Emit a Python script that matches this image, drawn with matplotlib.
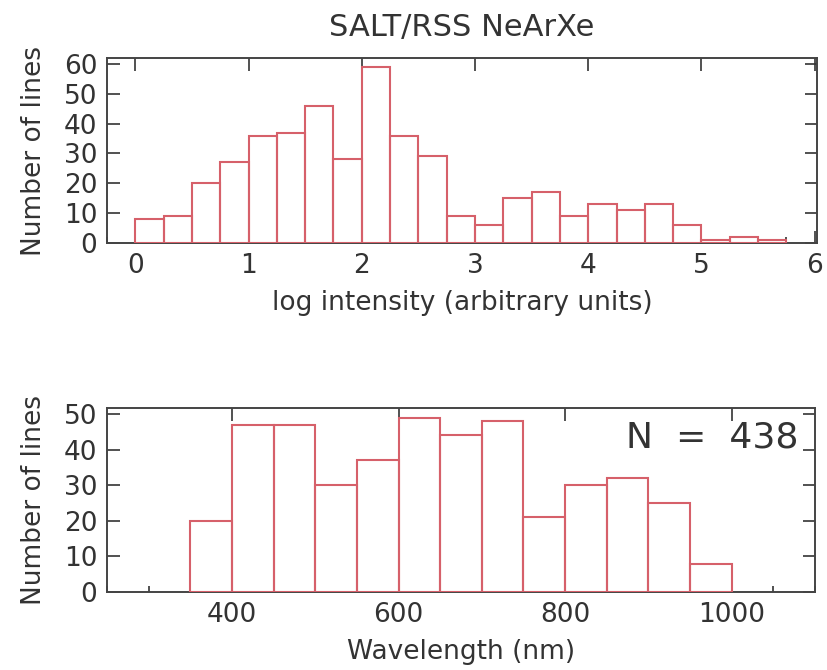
import matplotlib.pyplot as plt
import numpy as np
from matplotlib.ticker import MultipleLocator

# log intensity histogram (bin width 0.25, starting at 0)
logint_edges = np.arange(0, 5.75 + 0.001, 0.25)
logint_counts = [8, 9, 20, 27, 36, 37, 46, 28, 59, 36, 29, 9, 6,
                 15, 17, 9, 13, 11, 13, 6, 1, 2, 1]

# wavelength histogram (bin width 50 nm, starting at 350)
wave_edges = np.arange(350, 1000 + 1, 50)
wave_counts = [20, 47, 47, 30, 37, 49, 44, 48, 21, 30, 32, 25, 8]

n_lines = sum(wave_counts)

bar_color = '#d6606a'
txt_color = '#333333'
plt.rcParams['font.family'] = 'DejaVu Sans'
plt.rcParams['text.color'] = txt_color
plt.rcParams['axes.labelcolor'] = txt_color
plt.rcParams['xtick.color'] = '#333333'
plt.rcParams['ytick.color'] = '#333333'

fig = plt.figure(figsize=(8.27, 6.70), dpi=100)
W, H = 827, 670
ax1 = fig.add_axes([107 / W, 1 - 243 / H, (817 - 107) / W, (243 - 58) / H])
ax2 = fig.add_axes([107 / W, 1 - 592 / H, (815 - 107) / W, (592 - 408) / H])


def style(ax):
    for s in ax.spines.values():
        s.set_color('#444444')
        s.set_linewidth(1.4)
    ax.tick_params(which='both', direction='in', top=True, right=True,
                   labelsize=19, width=1.2, pad=7)
    ax.tick_params(which='major', length=9)
    ax.tick_params(which='minor', length=4)
    ax.tick_params(axis='y', which='minor', left=False, right=False)


def hist_bars(ax, edges, counts):
    ax.bar(edges[:-1], counts, width=np.diff(edges), align='edge',
           fill=False, edgecolor=bar_color, lw=1.5, zorder=3)


hist_bars(ax1, logint_edges, logint_counts)
ax1.set_xlim(-0.25, 6.02)
ax1.set_ylim(0, 62)
ax1.xaxis.set_major_locator(MultipleLocator(1))
ax1.xaxis.set_minor_locator(MultipleLocator(0.25))
ax1.yaxis.set_major_locator(MultipleLocator(10))
style(ax1)
ax1.tick_params(axis='x', which='minor', top=False)
ax1.set_xlabel('log intensity (arbitrary units)', size=19, labelpad=8)
ax1.set_ylabel('Number of lines', size=19, labelpad=12)
ax1.set_title('SALT/RSS NeArXe', size=22, pad=16)

hist_bars(ax2, wave_edges, wave_counts)
ax2.set_xlim(250, 1100)
ax2.set_ylim(0, 51.7)
ax2.xaxis.set_major_locator(MultipleLocator(200))
ax2.xaxis.set_minor_locator(MultipleLocator(50))
ax2.yaxis.set_major_locator(MultipleLocator(10))
style(ax2)
ax2.tick_params(axis='x', which='minor', top=False)
ax2.set_xlabel('Wavelength (nm)', size=19, labelpad=8)
ax2.set_ylabel('Number of lines', size=19, labelpad=12)
ax2.text(0.976, 0.84, 'N  =  %d' % n_lines, transform=ax2.transAxes,
         ha='right', va='center', size=26)

fig.savefig('out.png', dpi=100)
